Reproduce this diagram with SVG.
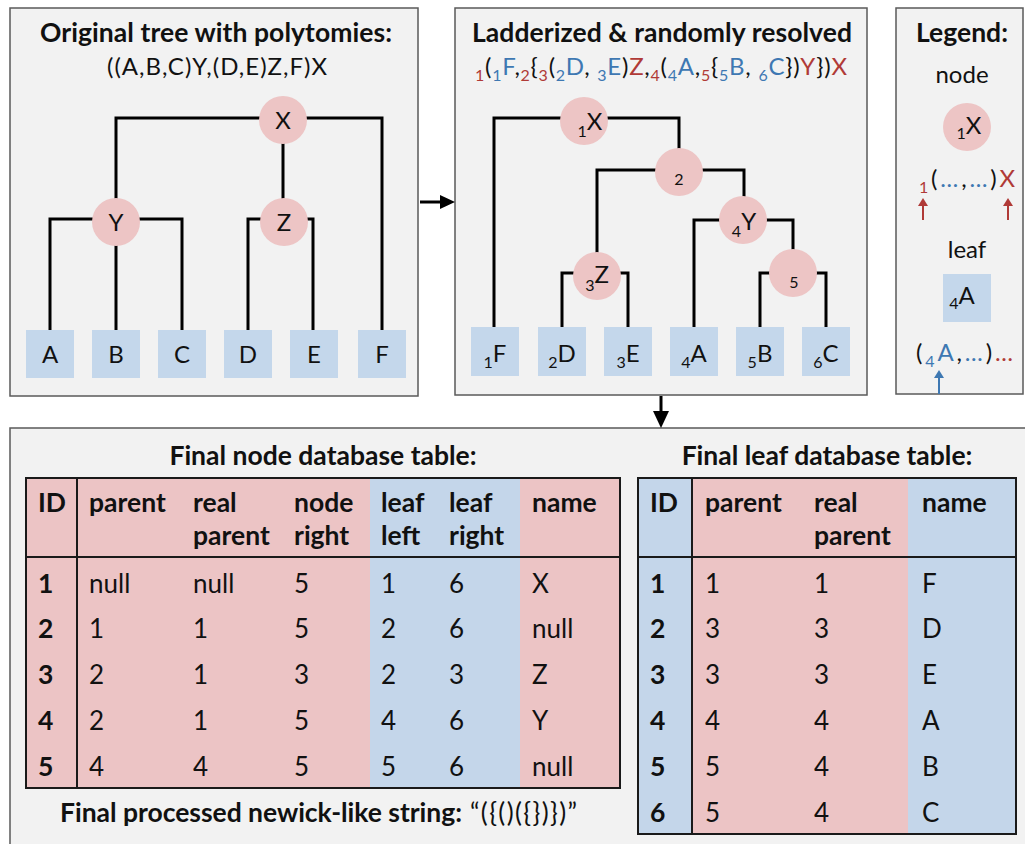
<svg xmlns="http://www.w3.org/2000/svg" width="1025" height="844" viewBox="0 0 1025 844">
<style>
text{font-family:Lato,"Open Sans","DejaVu Sans",sans-serif;fill:#111}
.t{font-weight:bold;font-size:26.5px}
.lab{font-size:24px}
.sm{font-size:24px}
.s{font-size:16px}
.r{fill:#b03a37}
.b{fill:#3e78b2}
.panel{fill:#f2f2f2;stroke:#5a5a5a;stroke-width:1.5}
.node{fill:#edc5c5}
.leaf{fill:#c4d7eb}
.pk{fill:#ecc4c5}
.bl{fill:#c4d6ea}
.edge{fill:none;stroke:#000;stroke-width:3}
.td{font-size:26px}
.th{font-size:26.5px;font-weight:bold}
.grid{fill:none;stroke:#1a1a1a;stroke-width:2}
.ar{fill:#000;stroke:none}
</style>
<rect x="0" y="0" width="1025" height="844" fill="#ffffff"/>

<g id="panels">
<rect class="panel" x="10" y="8" width="408" height="388"/>
<rect class="panel" x="455" y="8" width="412" height="387"/>
<rect class="panel" x="896" y="8" width="127" height="386"/>
<rect class="panel" x="10" y="428" width="1030" height="430"/>
</g>

<g id="titles">
<text class="t" x="40" y="42" textLength="352">Original tree with polytomies:</text>
<text class="sm" x="107" y="75" textLength="220">((A,B,C)Y,(D,E)Z,F)X</text>
<text class="t" x="472" y="42" textLength="380">Ladderized &amp; randomly resolved</text>
<text class="sm" x="475" y="75" textLength="372"><tspan class="r s" dy="6">1</tspan><tspan dy="-6">(</tspan><tspan class="b s" dy="6">1</tspan><tspan class="b" dy="-6">F</tspan>,<tspan class="r s" dy="6">2</tspan><tspan dy="-6">{</tspan><tspan class="r s" dy="6">3</tspan><tspan dy="-6">(</tspan><tspan class="b s" dy="6">2</tspan><tspan class="b" dy="-6">D</tspan>, <tspan class="b s" dy="6">3</tspan><tspan class="b" dy="-6">E</tspan>)<tspan class="r">Z</tspan>,<tspan class="r s" dy="6">4</tspan><tspan dy="-6">(</tspan><tspan class="b s" dy="6">4</tspan><tspan class="b" dy="-6">A</tspan>,<tspan class="r s" dy="6">5</tspan><tspan dy="-6">{</tspan><tspan class="b s" dy="6">5</tspan><tspan class="b" dy="-6">B</tspan>, <tspan class="b s" dy="6">6</tspan><tspan class="b" dy="-6">C</tspan>})<tspan class="r">Y</tspan>})<tspan class="r">X</tspan></text>
<text class="t" x="962" y="42" text-anchor="middle">Legend:</text>
</g>

<g id="connectors">
<path class="edge" d="M116,222 V118 H382 V330"/>
<path class="edge" d="M283,120 V222"/>
<path class="edge" d="M50,330 V219 H182 V330"/>
<path class="edge" d="M116,222 V330"/>
<path class="edge" d="M248,330 V219 H313 V330"/>
<path class="edge" d="M494,327 V118 H679 V172"/>
<path class="edge" d="M597,276 V170 H744 V220"/>
<path class="edge" d="M694,327 V220 H793 V273"/>
<path class="edge" d="M562,327 V273 H628 V327"/>
<path class="edge" d="M760,327 V273 H826 V327"/>
<path class="edge" d="M420,202 H442"/>
<polygon class="ar" points="440,195 455,202 440,209"/>
<path class="edge" d="M661,396 V413"/>
<polygon class="ar" points="653,411 669,411 661,428"/>
</g>

<g id="tree1-nodes">
<g id="t1-X"><circle class="node" cx="283" cy="120" r="24"/><text class="lab" x="283" y="129" text-anchor="middle">X</text></g>
<g id="t1-Y"><circle class="node" cx="116" cy="222" r="24"/><text class="lab" x="116" y="231" text-anchor="middle">Y</text></g>
<g id="t1-Z"><circle class="node" cx="284" cy="222" r="24"/><text class="lab" x="284" y="231" text-anchor="middle">Z</text></g>
<g id="t1-A"><rect class="leaf" x="26" y="330" width="48" height="48"/><text class="lab" x="50" y="363" text-anchor="middle">A</text></g>
<g id="t1-B"><rect class="leaf" x="92" y="330" width="48" height="48"/><text class="lab" x="116" y="363" text-anchor="middle">B</text></g>
<g id="t1-C"><rect class="leaf" x="158" y="330" width="48" height="48"/><text class="lab" x="182" y="363" text-anchor="middle">C</text></g>
<g id="t1-D"><rect class="leaf" x="224" y="330" width="48" height="48"/><text class="lab" x="248" y="363" text-anchor="middle">D</text></g>
<g id="t1-E"><rect class="leaf" x="290" y="330" width="48" height="48"/><text class="lab" x="314" y="363" text-anchor="middle">E</text></g>
<g id="t1-F"><rect class="leaf" x="358" y="330" width="48" height="48"/><text class="lab" x="382" y="363" text-anchor="middle">F</text></g>
</g>

<g id="tree2-nodes">
<g id="t2-X"><circle class="node" cx="584" cy="121" r="24"/><text class="lab" x="590" y="130" text-anchor="middle"><tspan class="s" dy="7">1</tspan><tspan dy="-7">X</tspan></text></g>
<g id="t2-2"><circle class="node" cx="679" cy="172" r="24"/><text class="s" x="679" y="185" text-anchor="middle">2</text></g>
<g id="t2-Y"><circle class="node" cx="743" cy="220" r="24"/><text class="lab" x="744" y="230" text-anchor="middle"><tspan class="s" dy="7">4</tspan><tspan dy="-7">Y</tspan></text></g>
<g id="t2-5"><circle class="node" cx="793" cy="273" r="24"/><text class="s" x="794" y="288" text-anchor="middle">5</text></g>
<g id="t2-Z"><circle class="node" cx="597" cy="276" r="24"/><text class="lab" x="597" y="283" text-anchor="middle"><tspan class="s" dy="8">3</tspan><tspan dy="-8">Z</tspan></text></g>
<g id="t2-F"><rect class="leaf" x="471" y="327" width="48" height="49"/><text class="lab" x="495" y="362" text-anchor="middle"><tspan class="s" dy="6">1</tspan><tspan dy="-6">F</tspan></text></g>
<g id="t2-D"><rect class="leaf" x="538" y="327" width="48" height="49"/><text class="lab" x="562" y="362" text-anchor="middle"><tspan class="s" dy="6">2</tspan><tspan dy="-6">D</tspan></text></g>
<g id="t2-E"><rect class="leaf" x="604" y="327" width="48" height="49"/><text class="lab" x="628" y="362" text-anchor="middle"><tspan class="s" dy="6">3</tspan><tspan dy="-6">E</tspan></text></g>
<g id="t2-A"><rect class="leaf" x="670" y="327" width="48" height="49"/><text class="lab" x="694" y="362" text-anchor="middle"><tspan class="s" dy="6">4</tspan><tspan dy="-6">A</tspan></text></g>
<g id="t2-B"><rect class="leaf" x="736" y="327" width="48" height="49"/><text class="lab" x="760" y="362" text-anchor="middle"><tspan class="s" dy="6">5</tspan><tspan dy="-6">B</tspan></text></g>
<g id="t2-C"><rect class="leaf" x="802" y="327" width="48" height="49"/><text class="lab" x="826" y="362" text-anchor="middle"><tspan class="s" dy="6">6</tspan><tspan dy="-6">C</tspan></text></g>
</g>

<g id="legend">
<text class="lab" x="962" y="83" text-anchor="middle">node</text>
<g id="lg-node"><circle class="node" cx="967" cy="127" r="24"/><text class="lab" x="969" y="134" text-anchor="middle"><tspan class="s" dy="5">1</tspan><tspan dy="-5">X</tspan></text></g>
<text class="lab" x="919" y="187" textLength="96"><tspan class="r s" dy="6">1</tspan><tspan dy="-6">(</tspan><tspan class="b">…</tspan>,<tspan class="b">…</tspan>)<tspan class="r">X</tspan></text>
<path d="M923,220 V204" stroke="#b03a37" stroke-width="2"/><polygon points="918,206 928,206 923,198" fill="#b03a37"/>
<path d="M1008,220 V204" stroke="#b03a37" stroke-width="2"/><polygon points="1003,206 1013,206 1008,198" fill="#b03a37"/>
<text class="lab" x="967" y="258" text-anchor="middle">leaf</text>
<g id="lg-leaf"><rect class="leaf" x="943" y="274" width="48" height="48"/><text class="lab" x="962" y="304" text-anchor="middle"><tspan class="s" dy="5">4</tspan><tspan dy="-5">A</tspan></text></g>
<text class="lab" x="916" y="361" textLength="97">(<tspan class="b s" dy="6">4</tspan><tspan class="b" dy="-6">A</tspan>,<tspan class="b">…</tspan>)<tspan class="r">…</tspan></text>
<path d="M939,394 V376" stroke="#3e78b2" stroke-width="2"/><polygon points="934,378 944,378 939,370" fill="#3e78b2"/>
</g>

<g id="node-table">
<text class="t" x="323" y="465" text-anchor="middle">Final node database table:</text>
<rect class="pk" x="26" y="478" width="344" height="310"/>
<rect class="bl" x="370" y="478" width="150" height="310"/>
<rect class="pk" x="520" y="478" width="100" height="310"/>
<rect class="grid" x="26" y="478" width="594" height="310"/>
<path class="grid" d="M26,557 H620 M77,478 V788"/>
<g class="th">
<text x="38" y="512">ID</text>
<text x="89" y="512">parent</text>
<text x="193" y="512">real</text><text x="193" y="545">parent</text>
<text x="294" y="512">node</text><text x="294" y="545">right</text>
<text x="381" y="512">leaf</text><text x="381" y="545">left</text>
<text x="449" y="512">leaf</text><text x="449" y="545">right</text>
<text x="532" y="512">name</text>
</g>
<g class="th"><text x="38" y="593">1</text><text x="38" y="638">2</text><text x="38" y="684">3</text><text x="38" y="730">4</text><text x="38" y="776">5</text></g>
<g class="td">
<text x="89" y="593">null</text><text x="193" y="593">null</text><text x="294" y="593">5</text><text x="381" y="593">1</text><text x="449" y="593">6</text><text x="532" y="593">X</text>
<text x="89" y="638">1</text><text x="193" y="638">1</text><text x="294" y="638">5</text><text x="381" y="638">2</text><text x="449" y="638">6</text><text x="532" y="638">null</text>
<text x="89" y="684">2</text><text x="193" y="684">1</text><text x="294" y="684">3</text><text x="381" y="684">2</text><text x="449" y="684">3</text><text x="532" y="684">Z</text>
<text x="89" y="730">2</text><text x="193" y="730">1</text><text x="294" y="730">5</text><text x="381" y="730">4</text><text x="449" y="730">6</text><text x="532" y="730">Y</text>
<text x="89" y="776">4</text><text x="193" y="776">4</text><text x="294" y="776">5</text><text x="381" y="776">5</text><text x="449" y="776">6</text><text x="532" y="776">null</text>
</g>
<text class="t" x="60" y="822" textLength="402">Final processed newick-like string:</text>
<text class="td" x="470" y="822" textLength="107">“({()({})})”</text>
</g>

<g id="leaf-table">
<text class="t" x="827" y="465" text-anchor="middle">Final leaf database table:</text>
<rect class="bl" x="638" y="478" width="54" height="356"/>
<rect class="pk" x="692" y="478" width="216" height="356"/>
<rect class="bl" x="908" y="478" width="108" height="356"/>
<rect class="grid" x="638" y="478" width="378" height="356"/>
<path class="grid" d="M638,557 H1016 M692,478 V834"/>
<g class="th">
<text x="650" y="512">ID</text>
<text x="705" y="512">parent</text>
<text x="814" y="512">real</text><text x="814" y="545">parent</text>
<text x="922" y="512">name</text>
</g>
<g class="th"><text x="650" y="593">1</text><text x="650" y="638">2</text><text x="650" y="684">3</text><text x="650" y="730">4</text><text x="650" y="776">5</text><text x="650" y="822">6</text></g>
<g class="td">
<text x="705" y="593">1</text><text x="814" y="593">1</text><text x="922" y="593">F</text>
<text x="705" y="638">3</text><text x="814" y="638">3</text><text x="922" y="638">D</text>
<text x="705" y="684">3</text><text x="814" y="684">3</text><text x="922" y="684">E</text>
<text x="705" y="730">4</text><text x="814" y="730">4</text><text x="922" y="730">A</text>
<text x="705" y="776">5</text><text x="814" y="776">4</text><text x="922" y="776">B</text>
<text x="705" y="822">5</text><text x="814" y="822">4</text><text x="922" y="822">C</text>
</g>
</g>
</svg>
